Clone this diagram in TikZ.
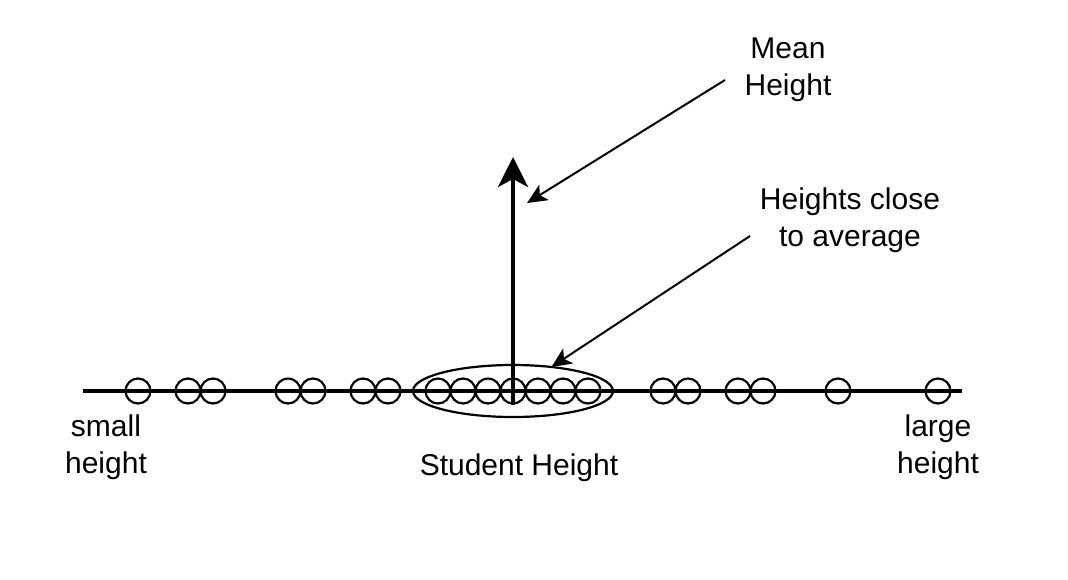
\documentclass[tikz,border=0pt]{standalone}
\usepackage{fontspec}
\setmainfont{Liberation Sans}
\usetikzlibrary{arrows.meta,shapes.geometric}

\begin{document}
\begin{tikzpicture}[x=1pt,y=-1pt,
  every node/.style={font=\fontsize{30}{37}\selectfont, align=center},
  dot/.style={draw, circle, line width=2.2pt, minimum size=25pt, inner sep=0pt},
  pointer/.style={line width=2pt, -{Stealth[length=20pt,width=18pt,inset=5pt]}}]
  \useasboundingbox (0,0) rectangle (1068,580);

  % Draw the height axis
  \coordinate (axisleft) at (83,391);
  \coordinate (axisright) at (962,391);
  \draw[line width=4pt] (axisleft) -- (axisright);

  % Add one circle per student
  \foreach \k in {5,7,8,11,12,14,15,17,18,19,20,21,22,23,26,27,29,30,33,37}
    \node[dot] (s\k) at (13+25*\k,391) {};

  % Ring round the heights near the mean
  \node[draw, ellipse, line width=2.2pt, minimum width=200pt, minimum height=52pt,
        inner sep=0pt, outer sep=0pt] (cluster) at (513,391) {};

  % Mean arrow
  \coordinate (meanfoot) at (513,405);
  \coordinate (meantop) at (513,157);
  \draw[line width=4pt, -{Stealth[length=30pt,width=30pt,inset=8pt]}] (meanfoot) -- (meantop);

  % Labels
  \node (meanlabel) at (788,70) {Mean\\Height};
  \node (closelabel) at (850,220) {Heights close\\to average};
  \node (smalllabel) at (106,447) {small\\height};
  \node (largelabel) at (938,447) {large\\height};
  \node (axislabel) at (519,468) {Student Height};

  % Pointers from the labels
  \coordinate (meanfrom) at (725,80);
  \coordinate (meanto) at (527,203);
  \draw[pointer] (meanfrom) -- (meanto);
  \coordinate (closefrom) at (750,236);
  \draw[pointer] (closefrom) -- (cluster.32);

\end{tikzpicture}
\end{document}
